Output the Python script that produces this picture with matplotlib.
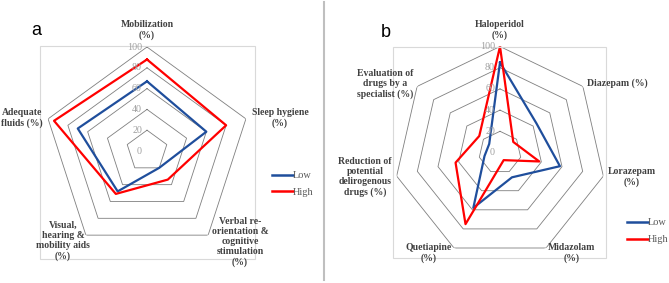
import numpy as np
import matplotlib
matplotlib.use("Agg")
import matplotlib.pyplot as plt
from matplotlib.patches import Rectangle
from matplotlib.lines import Line2D

# ---------------- data ----------------
cats_a = ["Mobilization\n(%)", "Sleep hygiene\n(%)",
          "Verbal re-\norientation &\ncognitive\nstimulation\n(%)",
          "Visual,\nhearing &\nmobility aids\n(%)", "Adequate\nfluids (%)"]
low_a = [67, 60, 20, 48, 70]
high_a = [88, 80, 34, 51, 94]

cats_b = ["Haloperidol\n(%)", "Diazepam (%)", "Lorazepam\n(%)", "Midazolam\n(%)",
          "Quetiapine\n(%)", "Reduction of\npotential\ndelirogenous\ndrugs (%)",
          "Evaluation of\ndrugs by a\nspecialist (%)"]
low_b = [85, 44, 58, 26, 58, 15, 13]
high_b = [100, 16, 38, 8, 75, 43, 25]

levels = [20, 40, 60, 80, 100]
tick_labels = ["0", "20", "40", "60", "80", "100"]
series_names = ["Low", "High"]

# ---------------- style ----------------
W, H = 669, 283
BLUE = "#1f4e9c"
RED = "#ff0000"
GRID = "#7f7f7f"
SERIF = ["Liberation Serif", "DejaVu Serif"]

fig = plt.figure(figsize=(W / 100, H / 100), dpi=100)


def fx(px):
    return px / W


def fy(py):
    return 1 - py / H


def radar(cx, cy, R, cats, low, high, label_pos, legend_xy, panel, panel_xy):
    ax = fig.add_axes([fx(cx - R), fy(cy + R), 2 * R / W, 2 * R / H],
                      projection="polar")
    ax.set_theta_offset(np.pi / 2)
    ax.set_theta_direction(-1)
    ax.set_ylim(0, 100)
    ax.grid(False)
    ax.set_xticks([])
    ax.set_yticks([])
    ax.spines["polar"].set_visible(False)
    ax.patch.set_alpha(0)
    n = len(cats)
    th = np.linspace(0, 2 * np.pi, n, endpoint=False)
    thc = np.append(th, th[0])
    for lv in levels:
        ax.plot(thc, [lv] * (n + 1), color=GRID, lw=0.6, zorder=1)
    ax.plot(thc, list(low) + [low[0]], color=BLUE, lw=1.6, zorder=3,
            label=series_names[0])
    ax.plot(thc, list(high) + [high[0]], color=RED, lw=1.6, zorder=4,
            label=series_names[1])
    # radial tick labels
    for t in tick_labels:
        r = int(t)
        y = cy - R * r / 100
        fig.text(fx(cx - 5), fy(y), t, ha="right", va="center",
                 fontsize=7.2, color="#a0a0a0", family=SERIF)
    # category labels
    for c, (x, y) in zip(cats, label_pos):
        fig.text(fx(x), fy(y), c, ha="center", va="center", fontsize=7,
                 fontweight="bold", color="#404040", family=SERIF,
                 linespacing=1.15)
    # legend
    handles = [Line2D([], [], color=BLUE, lw=1.8), Line2D([], [], color=RED, lw=1.8)]
    fig.legend(handles, series_names, loc="upper left",
               bbox_to_anchor=(fx(legend_xy[0]), fy(legend_xy[1])),
               frameon=False, handlelength=2.0, handletextpad=0.0,
               labelspacing=0.75, borderpad=0, borderaxespad=0,
               prop={"family": SERIF, "size": 7.4}, labelcolor="#595959")
    fig.text(fx(panel_xy[0]), fy(panel_xy[1]), panel, ha="left", va="baseline",
             fontsize=13, family=["Liberation Sans", "DejaVu Sans"], color="black")
    return ax


# plot-area borders
fig.patches.append(Rectangle((fx(40), fy(259)), fx(215), (259 - 46) / H,
                             transform=fig.transFigure, fill=False,
                             ec="#d9d9d9", lw=0.8, zorder=0))
fig.patches.append(Rectangle((fx(393), fy(258)), fx(213), (258 - 47) / H,
                             transform=fig.transFigure, fill=False,
                             ec="#d9d9d9", lw=0.8, zorder=0))
# separator
fig.add_artist(Line2D([fx(324), fx(324)], [fy(2), fy(280)],
                      transform=fig.transFigure, color="#bfbfbf", lw=1.5))

radar(147, 151, 104, cats_a, low_a, high_a,
      label_pos=[(147, 30), (280, 118), (240, 242), (63, 241), (22, 118)],
      legend_xy=(272, 171), panel="a", panel_xy=(31, 35))

radar(500, 152.5, 106, cats_b, low_b, high_b,
      label_pos=[(500, 30), (617, 83), (632, 177), (572, 253), (429, 253),
                 (365, 177), (385, 84)],
      legend_xy=(627, 218), panel="b", panel_xy=(381, 37))

fig.savefig("out.png", dpi=100)
